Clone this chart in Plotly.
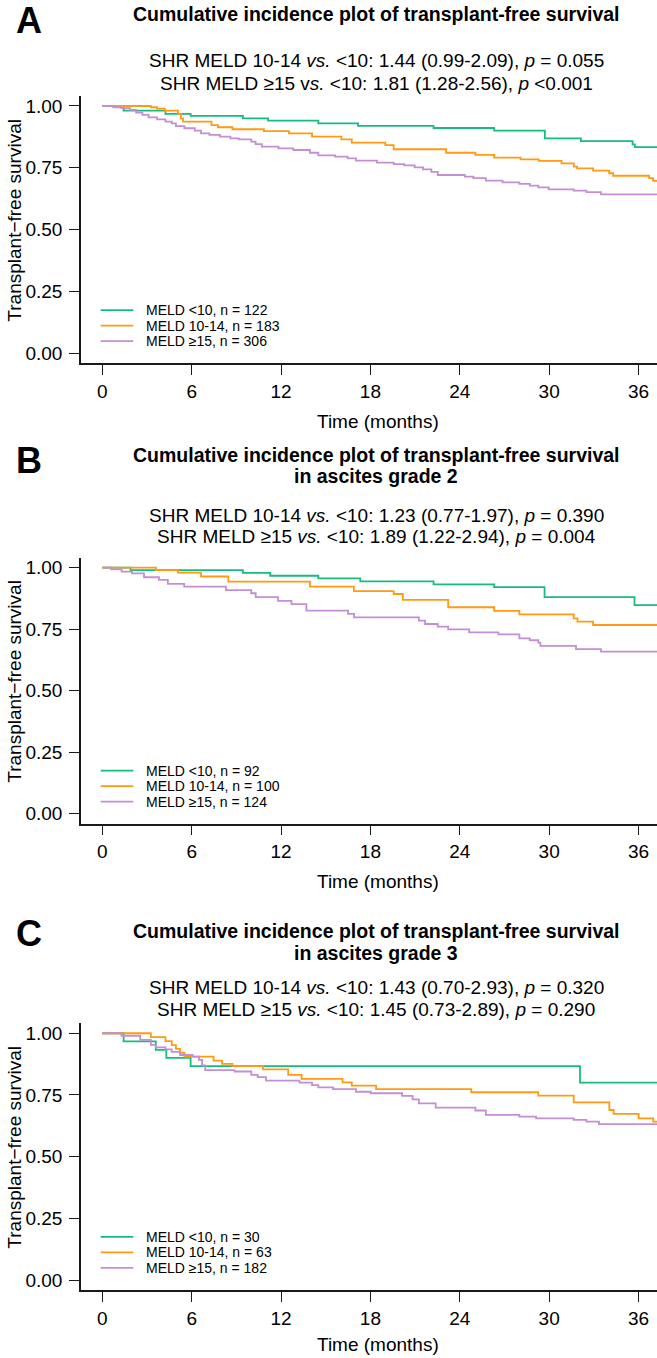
import plotly.graph_objects as go

W, H = 657, 1358

# ---------------- data ----------------
month_ticks = [0, 6, 12, 18, 24, 30, 36]
surv_ticks = [0.0, 0.25, 0.50, 0.75, 1.00]
groups = ["MELD <10", "MELD 10-14", "MELD ≥15"]
colors = ["#17BC7C", "#FF9A12", "#C38ED3"]

# Panel A
A_n = [122, 183, 306]
A_t_lt10 = [0, 1.43, 4.24, 5.93, 9.44, 11.13, 14.5, 17.17, 22.24, 26.31, 29.71, 32.13, 35.6, 35.75, 37.3]
A_s_lt10 = [1.0, 0.981, 0.968, 0.960, 0.950, 0.941, 0.930, 0.920, 0.911, 0.900, 0.869, 0.858, 0.845, 0.834, 0.834]
A_t_1014 = [0, 3.26, 3.68, 4.19, 5.08, 5.28, 5.42, 7.33, 7.76, 8.74, 10.85, 12.53, 14.08, 16.05, 16.75, 19.0,
            19.56, 23.08, 25.05, 26.31, 28.08, 29.3, 30.83, 31.66, 31.88, 32.95, 34.03, 34.3, 36.71, 36.98, 37.3]
A_s_1014 = [1.0, 0.995, 0.989, 0.981, 0.968, 0.950, 0.937, 0.923, 0.914, 0.906, 0.898, 0.889, 0.876, 0.865, 0.852,
            0.842, 0.825, 0.811, 0.802, 0.791, 0.784, 0.778, 0.768, 0.755, 0.748, 0.739, 0.728, 0.718, 0.708, 0.697, 0.697]
A_t_ge15 = [0, 0.73, 1.29, 1.85, 2.27, 2.69, 3.11, 3.68, 4.24, 4.66, 4.94, 5.51, 6.21, 6.63, 7.19, 7.90, 8.60, 9.16,
            10.0, 10.29, 10.71, 11.83, 12.82, 13.94, 14.50, 15.63, 16.47, 17.03, 18.44, 19.56, 20.27, 20.97, 21.53,
            22.09, 22.52, 24.34, 24.91, 25.75, 26.87, 28.0, 28.70, 29.27, 29.97, 31.65, 32.50, 33.48, 37.3]
A_s_ge15 = [1.0, 0.995, 0.991, 0.984, 0.973, 0.964, 0.954, 0.946, 0.937, 0.930, 0.919, 0.910, 0.900, 0.889, 0.883,
            0.876, 0.869, 0.865, 0.856, 0.846, 0.836, 0.829, 0.822, 0.811, 0.800, 0.795, 0.788, 0.779, 0.771, 0.765,
            0.760, 0.752, 0.744, 0.734, 0.721, 0.714, 0.708, 0.698, 0.691, 0.685, 0.678, 0.671, 0.663, 0.658, 0.652,
            0.643, 0.643]

# Panel B (ascites grade 2)
B_n = [92, 100, 124]
B_t_lt10 = [0, 1.9, 9.44, 11.27, 14.5, 17.32, 22.24, 26.31, 29.69, 35.73, 37.3]
B_s_lt10 = [1.0, 0.990, 0.979, 0.967, 0.956, 0.944, 0.932, 0.921, 0.880, 0.848, 0.848]
B_t_1014 = [0, 3.6, 5.08, 6.63, 8.46, 13.94, 16.89, 19.56, 20.18, 23.22, 26.31, 28.0, 31.65, 31.9, 32.95, 37.3]
B_s_1014 = [1.0, 0.990, 0.980, 0.964, 0.943, 0.923, 0.905, 0.893, 0.869, 0.839, 0.824, 0.810, 0.794, 0.781, 0.767, 0.767]
B_t_ge15 = [0, 0.6, 1.3, 2.0, 2.8, 3.8, 4.4, 5.5, 8.3, 10.0, 10.3, 11.8, 12.7, 13.7, 16.5, 16.9, 21.25, 21.67,
            22.52, 23.22, 24.63, 26.59, 28.0, 28.7, 29.27, 29.41, 31.8, 33.48, 37.3]
B_s_ge15 = [1.0, 0.993, 0.984, 0.977, 0.961, 0.950, 0.934, 0.923, 0.909, 0.896, 0.880, 0.865, 0.852, 0.825, 0.812,
            0.798, 0.785, 0.771, 0.760, 0.749, 0.737, 0.729, 0.713, 0.705, 0.695, 0.682, 0.669, 0.659, 0.659]

# Panel C (ascites grade 3)
C_n = [30, 63, 182]
C_t_lt10 = [0, 1.43, 3.59, 4.30, 5.93, 32.07, 37.3]
C_s_lt10 = [1.0, 0.967, 0.933, 0.900, 0.867, 0.800, 0.800]
C_t_1014 = [0, 3.26, 4.24, 4.66, 4.94, 5.22, 5.51, 7.47, 8.04, 8.74, 10.79, 12.48, 13.38, 16.13, 16.75, 18.38,
            24.77, 29.27, 31.65, 34.04, 34.33, 36.01, 36.99, 37.3]
C_s_1014 = [1.0, 0.984, 0.968, 0.952, 0.937, 0.921, 0.905, 0.889, 0.876, 0.867, 0.854, 0.831, 0.815, 0.801, 0.788,
            0.774, 0.761, 0.747, 0.720, 0.689, 0.673, 0.655, 0.642, 0.642]
C_t_ge15 = [0, 1.29, 2.55, 3.26, 3.59, 4.24, 4.66, 5.22, 6.07, 6.49, 6.70, 6.91, 8.88, 10.0, 10.43, 10.99, 13.24,
            14.08, 14.5, 15.49, 17.03, 18.02, 20.13, 20.83, 21.25, 22.38, 25.05, 25.75, 28.0, 29.12, 31.65, 32.5,
            33.34, 37.3]
C_s_ge15 = [1.0, 0.990, 0.973, 0.953, 0.943, 0.935, 0.925, 0.912, 0.905, 0.892, 0.870, 0.851, 0.845, 0.831, 0.822,
            0.808, 0.800, 0.790, 0.781, 0.774, 0.763, 0.757, 0.746, 0.732, 0.716, 0.699, 0.687, 0.669, 0.662, 0.655,
            0.649, 0.642, 0.632, 0.632]

panel_letters = ["A", "B", "C"]
panel_titles = [
    ["Cumulative incidence plot of transplant-free survival"],
    ["Cumulative incidence plot of transplant-free survival", "in ascites grade 2"],
    ["Cumulative incidence plot of transplant-free survival", "in ascites grade 3"],
]
panel_shr = [
    ["SHR MELD 10-14 <i>vs.</i> <10: 1.44 (0.99-2.09), <i>p</i> = 0.055",
     "SHR MELD ≥15 v<i>s.</i> <10: 1.81 (1.28-2.56), <i>p</i> <0.001"],
    ["SHR MELD 10-14 <i>vs.</i> <10: 1.23 (0.77-1.97), <i>p</i> = 0.390",
     "SHR MELD ≥15 <i>vs.</i> <10: 1.89 (1.22-2.94), <i>p</i> = 0.004"],
    ["SHR MELD 10-14 <i>vs.</i> <10: 1.43 (0.70-2.93), <i>p</i> = 0.320",
     "SHR MELD ≥15 <i>vs.</i> <10: 1.45 (0.73-2.89), <i>p</i> = 0.290"],
]
panel_n = [A_n, B_n, C_n]
panel_series = [
    [(A_t_lt10, A_s_lt10), (A_t_1014, A_s_1014), (A_t_ge15, A_s_ge15)],
    [(B_t_lt10, B_s_lt10), (B_t_1014, B_s_1014), (B_t_ge15, B_s_ge15)],
    [(C_t_lt10, C_s_lt10), (C_t_1014, C_s_1014), (C_t_ge15, C_s_ge15)],
]

# ---------------- layout (pixel geometry) ----------------
FONT = "Liberation Sans, Arial, Helvetica, sans-serif"
plot_px = [(96.1, 363.2), (557.8, 823.6), (1023.4, 1289.9)]   # top, bottom of each plot area
letter_y = [21, 460, 933]
title_y = [[14], [455, 476], [930.5, 953]]
shr_y = [[61, 83], [515, 536.5], [987, 1009.5]]
xtitle_y = [421, 881, 1344]
legend_rows = [0.175, 0.112, 0.049]
x_left_px = 81.0

def py(px):
    return 1 - px / H

def px_x(px):
    return px / W

fig = go.Figure()
annotations = []
shapes = []
layout_axes = {}

for i in range(3):
    xa = "x" if i == 0 else f"x{i+1}"
    ya = "y" if i == 0 else f"y{i+1}"
    for g in range(3):
        t, s = panel_series[i][g]
        fig.add_trace(go.Scatter(
            x=t, y=s, mode="lines", line=dict(color=colors[g], width=1.8, shape="hv"),
            name=f"{groups[g]}, n = {panel_n[i][g]}", showlegend=False,
            xaxis=xa, yaxis=ya, hoverinfo="skip"))
    top, bot = plot_px[i]
    xkey = "xaxis" if i == 0 else f"xaxis{i+1}"
    ykey = "yaxis" if i == 0 else f"yaxis{i+1}"
    layout_axes[xkey] = dict(
        domain=[x_left_px / W, 1], range=[-1.43, 37.24], tickvals=month_ticks,
        ticks="outside", ticklen=10, tickwidth=1.3, tickcolor="#1a1a1a",
        showline=True, linecolor="#1a1a1a", linewidth=1.6, showgrid=False, zeroline=False,
        tickfont=dict(size=19, color="black", family=FONT), anchor=ya, ticklabelstandoff=0,
        automargin=False, fixedrange=True)
    layout_axes[ykey] = dict(
        domain=[py(bot), py(top)], range=[-0.04, 1.04], tickvals=surv_ticks, tickformat=".2f",
        ticks="outside", ticklen=10, tickwidth=1.3, tickcolor="#1a1a1a",
        showline=True, linecolor="#1a1a1a", linewidth=1.6, showgrid=False, zeroline=False,
        tickfont=dict(size=19, color="black", family=FONT), anchor=xa, ticklabelstandoff=3,
        automargin=False, fixedrange=True)

    # panel letter
    annotations.append(dict(text=f"<b>{panel_letters[i]}</b>", x=px_x(29), y=py(letter_y[i]),
                            xref="paper", yref="paper", xanchor="center", yanchor="middle",
                            showarrow=False, font=dict(size=36, color="black", family=FONT)))
    for line, yy in zip(panel_titles[i], title_y[i]):
        annotations.append(dict(text=f"<b>{line}</b>", x=px_x(376), y=py(yy), xref="paper", yref="paper",
                                xanchor="center", yanchor="middle", showarrow=False,
                                font=dict(size=19.5, color="black", family=FONT)))
    for line, yy in zip(panel_shr[i], shr_y[i]):
        annotations.append(dict(text=line, x=px_x(376), y=py(yy), xref="paper", yref="paper",
                                xanchor="center", yanchor="middle", showarrow=False,
                                font=dict(size=19, color="black", family=FONT)))
    # axis titles
    annotations.append(dict(text="Time (months)", x=px_x(378), y=py(xtitle_y[i]), xref="paper", yref="paper",
                            xanchor="center", yanchor="middle", showarrow=False,
                            font=dict(size=19, color="black", family=FONT)))
    annotations.append(dict(text="Transplant\u2212free survival", x=px_x(15), y=py((top + bot) / 2 - 9),
                            xref="paper", yref="paper", xanchor="center", yanchor="middle",
                            textangle=-90, showarrow=False,
                            font=dict(size=19, color="black", family=FONT)))
    # legend (inside plot, bottom-left)
    for g in range(3):
        yv = legend_rows[g]
        shapes.append(dict(type="line", xref=xa, yref=ya, x0=-0.11, x1=2.08, y0=yv, y1=yv,
                           line=dict(color=colors[g], width=1.8)))
        annotations.append(dict(text=f"{groups[g]}, n = {panel_n[i][g]}", x=2.82, y=yv, xref=xa, yref=ya,
                                xanchor="left", yanchor="middle", showarrow=False,
                                font=dict(size=14, color="black", family=FONT)))

fig.update_layout(
    width=W, height=H, margin=dict(l=0, r=0, t=0, b=0, autoexpand=False),
    paper_bgcolor="white", plot_bgcolor="white",
    showlegend=False, annotations=annotations, shapes=shapes,
    font=dict(family=FONT, color="black"),
    **layout_axes)

fig.write_html("out.html", config={"displayModeBar": False},
               post_script="document.body.style.margin='0';document.body.style.overflow='hidden';")
